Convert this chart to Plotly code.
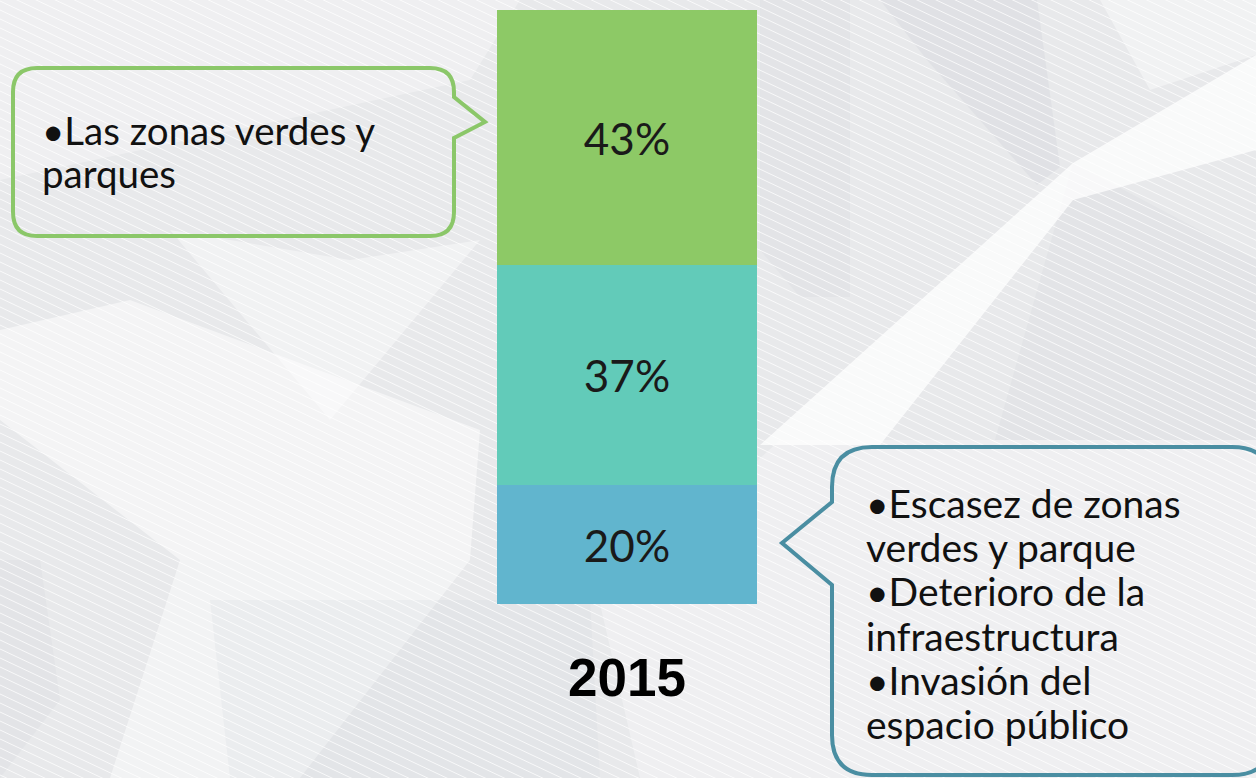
import plotly.graph_objects as go

# ---------------- data ----------------
year = "2015"
segments = ["Escasez / deterioro", "Neutral", "Zonas verdes"]   # bottom -> top
values = [20, 37, 43]
bar_colors = ["#61B5CE", "#62CBB9", "#8DC966"]

green_lines = ["•Las zonas verdes y", "parques"]
blue_lines = ["•Escasez de zonas", "verdes y parque", "•Deterioro de la",
              "infraestructura", "•Invasión del", "espacio público"]

W, H = 1256, 778
FONT = "Century Gothic, URW Gothic, Lato, sans-serif"


def px(x):
    return x / W


def py(y):
    return 1 - y / H


def poly(points):
    return "M " + " L ".join(f"{px(x):.5f},{py(y):.5f}" for x, y in points) + " Z"


fig = go.Figure()
for name, v, c in zip(segments, values, bar_colors):
    fig.add_trace(go.Bar(
        x=[year], y=[v], name=name, width=1,
        marker=dict(color=c, line=dict(width=0)),
        text=[f"{v}%"], textposition="inside", insidetextanchor="middle",
        textangle=0,
        textfont=dict(family=FONT, size=44, color="#1a1a1a"),
        hoverinfo="skip",
    ))

shapes = []
# ---------- background facets ----------
facets = [
    ([(0, 0), (520, 0), (470, 80), (0, 180)], "rgba(255,255,255,0.3)"),
    ([(0, 330), (130, 300), (480, 430), (470, 560), (180, 560), (0, 420)], "rgba(255,255,255,0.5)"),
    ([(180, 560), (470, 560), (300, 778), (110, 778)], "rgba(255,255,255,0.45)"),
    ([(0, 560), (40, 560), (60, 700), (0, 778)], "rgba(210,214,218,0.25)"),
    ([(210, 600), (590, 600), (600, 778), (230, 778)], "rgba(210,214,218,0.2)"),
    ([(760, 0), (850, 0), (850, 297), (800, 297), (760, 250)], "rgba(210,214,218,0.25)"),
    ([(880, 0), (1037, 0), (1060, 167), (1037, 185), (927, 60)], "rgba(205,210,214,0.3)"),
    ([(1073, 163), (1256, 260), (1256, 440), (995, 440)], "rgba(210,214,218,0.25)"),
    ([(760, 445), (1073, 163), (1256, 55), (1256, 150), (1073, 200), (880, 445)], "rgba(255,255,255,0.75)"),
    ([(1100, 0), (1256, 0), (1256, 55), (1150, 90)], "rgba(255,255,255,0.4)"),
    ([(170, 230), (350, 260), (480, 240), (330, 420)], "rgba(255,255,255,0.4)"),
    ([(600, 604), (780, 440), (1256, 440), (1256, 778), (640, 778)], "rgba(255,255,255,0.3)"),
]
for pts, fill in facets:
    shapes.append(dict(type="path", xref="paper", yref="paper", path=poly(pts),
                       fillcolor=fill, line=dict(width=0), layer="below"))

# ---------- diagonal hatch lines ----------
segs = []
y0 = -620
while y0 < H + 10:
    segs.append(f"M {px(0):.5f},{py(y0):.5f} L {px(W):.5f},{py(y0 + 0.47 * W):.5f}")
    y0 += 9
shapes.append(dict(type="path", xref="paper", yref="paper", path=" ".join(segs),
                   line=dict(color="rgba(255,255,255,0.75)", width=1), layer="below"))


# ---------- callouts ----------
def rounded_with_tail(x0, y0, x1, y1, r, side, t0, tip, t1):
    P = lambda x, y: f"{px(x):.5f},{py(y):.5f}"
    d = [f"M {P(x0 + r, y0)}", f"L {P(x1 - r, y0)}", f"Q {P(x1, y0)} {P(x1, y0 + r)}"]
    if side == "right":
        d += [f"L {P(x1, t0)}", f"L {P(*tip)}", f"L {P(x1, t1)}"]
    d += [f"L {P(x1, y1 - r)}", f"Q {P(x1, y1)} {P(x1 - r, y1)}",
          f"L {P(x0 + r, y1)}", f"Q {P(x0, y1)} {P(x0, y1 - r)}"]
    if side == "left":
        d += [f"L {P(x0, t1)}", f"L {P(*tip)}", f"L {P(x0, t0)}"]
    d += [f"L {P(x0, y0 + r)}", f"Q {P(x0, y0)} {P(x0 + r, y0)}", "Z"]
    return " ".join(d)


shapes.append(dict(type="path", xref="paper", yref="paper",
                   path=rounded_with_tail(13, 68, 454, 236, 24, "right", 97, (485, 122), 138),
                   line=dict(color="#8BC769", width=4), fillcolor="rgba(0,0,0,0)", layer="above"))
shapes.append(dict(type="path", xref="paper", yref="paper",
                   path=rounded_with_tail(832, 447, 1272, 775, 40, "left", 502, (782, 543), 585),
                   line=dict(color="#4A8EA2", width=4), fillcolor="rgba(0,0,0,0)", layer="above"))

annotations = []
for i, t in enumerate(green_lines):
    annotations.append(dict(xref="paper", yref="paper", x=px(40), y=py(130 + 42.5 * i),
                            text=t, showarrow=False, xanchor="left", yanchor="middle",
                            font=dict(family=FONT, size=38.5, color="#111111")))
for i, t in enumerate(blue_lines):
    annotations.append(dict(xref="paper", yref="paper", x=px(864), y=py(503 + 44.2 * i),
                            text=t, showarrow=False, xanchor="left", yanchor="middle",
                            font=dict(family=FONT, size=39, color="#111111")))
annotations.append(dict(xref="x", yref="paper", x=0, y=py(677), text=f"<b>{year}</b>",
                        showarrow=False, xanchor="center", yanchor="middle",
                        font=dict(family="Liberation Sans, Arial, sans-serif", size=53, color="#000000")))

# axis ranges so that the bar spans pixels 497-757 and 0..100 spans y 604..10
bar_left, bar_w = 497, 260
x_lo = -0.5 - bar_left / bar_w
x_hi = x_lo + W / bar_w
y_top_px, y_bot_px = 10, 604
scale = 100 / (y_bot_px - y_top_px)
y_lo = -(H - y_bot_px) * scale
y_hi = 100 + y_top_px * scale

fig.update_layout(
    width=W, height=H, barmode="stack", showlegend=False,
    margin=dict(l=0, r=0, t=0, b=0),
    paper_bgcolor="#e8e9eb", plot_bgcolor="rgba(0,0,0,0)",
    xaxis=dict(type="category", range=[x_lo, x_hi], visible=False, fixedrange=True),
    yaxis=dict(range=[y_lo, y_hi], visible=False, fixedrange=True),
    shapes=shapes, annotations=annotations,
)
fig.write_html("out.html", config={"displayModeBar": False},
               post_script="document.body.style.margin='0';document.body.style.overflow='hidden';")
